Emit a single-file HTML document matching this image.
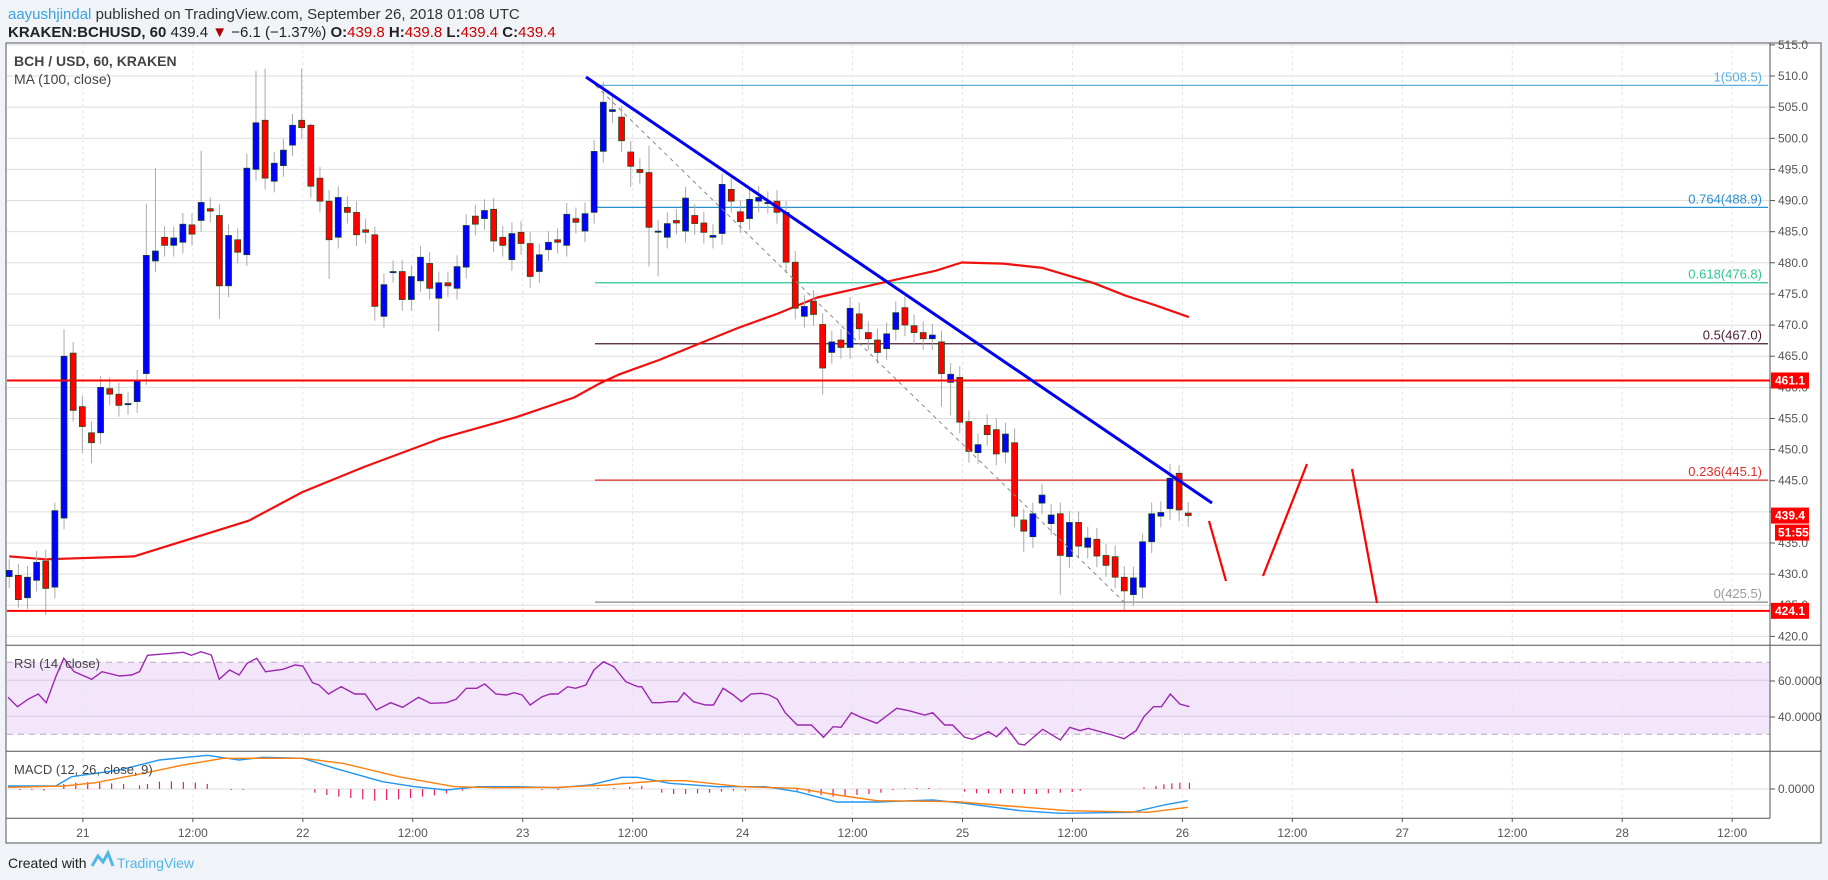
<!DOCTYPE html>
<html><head><meta charset="utf-8">
<style>
html,body{margin:0;padding:0;background:#f0f3f7;}
body{width:1828px;height:880px;overflow:hidden;font-family:"Liberation Sans",sans-serif;}
svg{position:absolute;left:0;top:0;}
</style></head>
<body>
<svg id="s" width="1828" height="880" xmlns="http://www.w3.org/2000/svg" font-family="Liberation Sans, sans-serif">
<rect x="0" y="0" width="1828" height="880" fill="#f0f3f7"/>
<rect x="6" y="43" width="1815" height="800" fill="#fff" stroke="#555" stroke-width="1"/>
<text x="8" y="19" font-size="15"><tspan fill="#3aa3e0">aayushjindal</tspan><tspan fill="#333"> published on TradingView.com, September 26, 2018 01:08 UTC</tspan></text>
<text x="8" y="37" font-size="15" fill="#222"><tspan font-weight="bold">KRAKEN:BCHUSD, 60</tspan><tspan> 439.4 </tspan><tspan fill="#a00">▼</tspan><tspan> −6.1 (−1.37%) </tspan><tspan font-weight="bold">O:</tspan><tspan fill="#c00">439.8</tspan><tspan font-weight="bold"> H:</tspan><tspan fill="#c00">439.8</tspan><tspan font-weight="bold"> L:</tspan><tspan fill="#c00">439.4</tspan><tspan font-weight="bold"> C:</tspan><tspan fill="#c00">439.4</tspan></text>
<g id="g"></g>
<text x="8" y="868" font-size="14" fill="#222">Created with</text>
<path d="M92 866 L98 856 L103 862 L108 853 L113 866" fill="none" stroke="#4fb7e6" stroke-width="3"/>
<text x="117" y="868" font-size="14" fill="#4fb7e6">TradingView</text>
</svg>
<script>
(function(){
var NS="http://www.w3.org/2000/svg",G=document.getElementById("g");
function el(t,a,txt){var e=document.createElementNS(NS,t);for(var k in a)e.setAttribute(k,a[k]);if(txt!==undefined)e.textContent=txt;G.appendChild(e);return e;}
function Y(p){return 44.9+(515-p)*6.226;}
var X0=9.2,DX=9.14,i,p,x;
el("rect",{x:7,y:662.3,width:1763,height:72,fill:"#f3e6fb"});
for(p=420;p<=515;p+=5){el("line",{x1:7,x2:1770,y1:Y(p),y2:Y(p),stroke:"#dedede","stroke-width":1});}
el("line",{x1:7,x2:1770,y1:680.3,y2:680.3,stroke:"#d8c8e2"});
el("line",{x1:7,x2:1770,y1:716.3,y2:716.3,stroke:"#d8c8e2"});
el("line",{x1:7,x2:1770,y1:662.3,y2:662.3,stroke:"#b9a6c6","stroke-dasharray":"6,5"});
el("line",{x1:7,x2:1770,y1:734.3,y2:734.3,stroke:"#b9a6c6","stroke-dasharray":"6,5"});
el("line",{x1:7,x2:1770,y1:789,y2:789,stroke:"#dedede"});
var labs=["21","12:00","22","12:00","23","12:00","24","12:00","25","12:00","26","12:00","27","12:00","28","12:00"];
for(i=0;i<16;i++){x=82.9+i*109.95;
 el("line",{x1:x,x2:x,y1:44,y2:818,stroke:"#e4e4e4","stroke-dasharray":"3,3"});
 el("line",{x1:x,x2:x,y1:818,y2:822,stroke:"#555"});
 el("text",{x:x,y:837,"font-size":12,fill:"#555","text-anchor":"middle"},labs[i]);}
el("line",{x1:6,x2:1821,y1:645.3,y2:645.3,stroke:"#555"});
el("line",{x1:6,x2:1821,y1:751.3,y2:751.3,stroke:"#555"});
el("line",{x1:6,x2:1770,y1:818.3,y2:818.3,stroke:"#555"});
el("line",{x1:1770,x2:1770,y1:43,y2:818.3,stroke:"#555"});
for(p=420;p<=515;p+=5){el("line",{x1:1770,x2:1775,y1:Y(p),y2:Y(p),stroke:"#555"});
 el("text",{x:1778,y:Y(p)+4,"font-size":12,fill:"#555"},p.toFixed(1));}
el("line",{x1:1770,x2:1775,y1:681,y2:681,stroke:"#555"});el("text",{x:1778,y:685,"font-size":12,fill:"#555"},"60.0000");
el("line",{x1:1770,x2:1775,y1:717,y2:717,stroke:"#555"});el("text",{x:1778,y:721,"font-size":12,fill:"#555"},"40.0000");
el("line",{x1:1770,x2:1775,y1:789,y2:789,stroke:"#555"});el("text",{x:1778,y:793,"font-size":12,fill:"#555"},"0.0000");
var fib=[[508.5,"#5aaee0","1(508.5)"],[488.9,"#2a8fd0","0.764(488.9)"],[476.8,"#2ec493","0.618(476.8)"],[467.0,"#4a1a35","0.5(467.0)"],[445.1,"#e02a2a","0.236(445.1)"],[425.5,"#999","0(425.5)"]];
fib.forEach(function(f){el("line",{x1:595,x2:1768,y1:Y(f[0]),y2:Y(f[0]),stroke:f[2]=="0(425.5)"?"#888":f[1],"stroke-width":1.2});
 el("text",{x:1762,y:Y(f[0])-4,"font-size":13,fill:f[1],"text-anchor":"end"},f[2]);});
var ma3=[[24,1390],[118,1398],[350,1390],[500,1340],[650,1290],[790,1210],[950,1140],[1150,1060],[1350,1000],[1500,945],[1568,905]];
var ma4=[[100,880],[200,840],[300,795],[400,750],[500,710],[600,665],[700,640],[800,615],[900,590],[965,567],[1070,570],[1170,582],[1300,625],[1380,660],[1450,685],[1540,720]];
var pts=ma3.map(function(a){return (a[0]/2.613).toFixed(1)+","+(60+a[1]/2.8).toFixed(1)}).concat(ma4.map(function(a){return (580+a[0]/2.529).toFixed(1)+","+(60+a[1]/2.8).toFixed(1)}));
el("polyline",{points:pts.join(" "),fill:"none",stroke:"#f01010","stroke-width":2.2,"stroke-linejoin":"round"});
var C=[[429.6,430.6],[429.8,425.9],[426.2,429.5],[429,431.9],[432.1,427.7],[427.9,440.2],[439,465],[465.5,456.3],[456.9,453.7],[452.7,451.1],[452.7,460],[459.8,458.9],[458.9,457.1],[457.4,457.4],[457.7,461],[462.2,481.2],[480.3,481.9],[484.1,482.8],[482.8,484],[483.3,486.2],[486.1,484.6],[486.8,489.7],[488.7,488.3],[487.6,476.3],[476.3,484.4],[483.7,481.7],[481.3,495.2],[495,502.5],[502.9,493.6],[493.1,496],[495.6,498.1],[498.9,502.1],[502.9,501.7],[502.1,492.3],[493.6,489.9],[489.9,483.7],[484.1,490.5],[488.9,488.1],[488.1,484.5],[485.3,484.9],[484.5,473],[471.4,476.5],[478.6,478.6],[478.6,474.1],[474.1,477.8],[477.1,480.9],[479.9,475.9],[474.3,476.8],[476.8,476.3],[475.9,479.4],[479.3,486],[487.5,486.2],[487.1,488.4],[488.6,483.5],[484.1,482.8],[480.5,484.7],[484.9,483.1],[483.1,477.8],[478.6,481.3],[482.1,483.3],[483.7,483.3],[482.8,487.8],[487.1,486.5],[485.1,487.9],[488.1,497.9],[497.9,505.8],[504.3,504.6],[503.4,499.6],[497.8,495.5],[495,494.5],[494.5,485.7],[485.1,485.1],[484.1,486.3],[486.8,486.4],[485.1,490.4],[487.6,486.3],[486.4,484.9],[484.1,484.4],[484.7,492.6],[491.8,489.9],[488.2,486.6],[487.1,490.2],[489.9,490.5],[489.7,489.7],[489.9,488.1],[488.1,480.1],[480.1,472.7],[471.4,473],[473.8,471.7],[470.1,463.1],[465.6,467.3],[467.6,466.4],[466.4,472.7],[471.8,469.4],[468.8,467.8],[467.6,465.6],[466.2,468.6],[469.3,472],[472.8,470],[469.9,468.8],[468.8,467.8],[467.8,468.4],[467.3,462.2],[460.8,462.1],[461.6,454.4],[454.5,449.7],[449.5,450.8],[453.9,452.4],[453.2,449.3],[449.6,452.5],[451.1,439.3],[438.7,436.9],[436,439.7],[441.4,442.7],[438.1,439.5],[439.7,433],[432.8,438.3],[438.3,434.5],[434.3,435.8],[435.6,432.9],[433,431.4],[432.8,429.5],[429.5,427.3],[426.7,429.4],[427.9,435.2],[435.2,439.7],[439.3,439.9],[440.5,445.4],[446.2,440.3],[439.8,439.4]];
var WH={6:4,15:8,16:13,21:8,26:2,27:8,28:8,32:8,33:0,5:1,40:1,65:3,66:2,70:4,110:2,124:1,127:2,128:1};
var WL={1:1,4:4,8:4,9:3,23:5,35:6,40:2,47:5,68:3,70:6,71:7,89:4,102:5,103:5,111:3,115:6,122:3};
for(i=0;i<C.length;i++){var o=C[i][0],c=C[i][1];x=X0+i*DX;
 var hh=Math.max(o,c)+(WH[i]!==undefined?WH[i]:1.5)+0.3,ll=Math.min(o,c)-(WL[i]!==undefined?WL[i]:1.5)-0.3;
 el("line",{x1:x,x2:x,y1:Y(hh),y2:Y(ll),stroke:"#aaa","stroke-width":1});
 var bt=Y(Math.max(o,c)),bh=Math.max(1.2,Y(Math.min(o,c))-bt);
 el("rect",{x:x-3,y:bt,width:6,height:bh,fill:c>=o?"#0000ff":"#ff0000",stroke:"#1a4a1a","stroke-width":0.7});}
el("line",{x1:7,x2:1770,y1:Y(461.1),y2:Y(461.1),stroke:"#ff0000","stroke-width":2});
el("line",{x1:7,x2:1770,y1:Y(424.1),y2:Y(424.1),stroke:"#ff0000","stroke-width":2});
el("line",{x1:590,x2:1126,y1:80,y2:604,stroke:"#888","stroke-width":1,"stroke-dasharray":"4,4"});
el("line",{x1:586,x2:1212,y1:77,y2:503,stroke:"#0000ee","stroke-width":3});
[[1209,521,1226,581],[1263,576,1307,464],[1352,469,1377,603]].forEach(function(a){el("line",{x1:a[0],y1:a[1],x2:a[2],y2:a[3],stroke:"#ff0000","stroke-width":2.2});});
function tag(y,t){el("rect",{x:1771,y:y-8,width:38,height:16,fill:"#ff0000"});el("text",{x:1775,y:y+4,"font-size":12,fill:"#fff","font-weight":"bold"},t);}
tag(Y(461.1),"461.1");tag(Y(439.4),"439.4");tag(Y(424.1),"424.1");
el("rect",{x:1775,y:Y(439.4)+9,width:34,height:16,fill:"#ff0000"});el("text",{x:1778,y:Y(439.4)+21,"font-size":12,fill:"#fff","font-weight":"bold"},"51:55");
var r=[[10,172],[22,200],[35,178],[48,162],[58,188],[70,110],[80,55],[93,95],[115,118],[128,95],[150,108],[165,105],[175,95],[185,46],[230,37],[240,46],[252,35],[265,45],[275,118],[288,90],[300,105],[310,70],[322,55],[333,95],[355,88],[370,75],[380,78],[392,128],[400,135],[412,162],[428,140],[445,162],[458,162],[472,210],[490,188],[505,202],[525,172],[540,190],[560,188],[572,178],[585,145],[598,145],[608,132],[622,162],[635,165],[645,158],[655,165],[665,195],[680,170],[690,162],[700,162],[712,140],[722,145],[735,135],[745,90],[757,65],[770,80],[785,125],[800,140],[805,140],[818,188],[830,188],[838,185],[850,185],[858,158],[870,185],[885,195],[895,195],[907,145],[920,165],[930,185],[942,162],[955,160],[965,165],[975,178],[985,218],[1000,255],[1018,255],[1033,292],[1045,260],[1055,262],[1068,218],[1080,232],[1100,250],[1125,205],[1140,212],[1160,225],[1170,218],[1185,255],[1195,255],[1210,292],[1220,298],[1240,275],[1250,290],[1262,262],[1278,312],[1285,315],[1308,268],[1330,300],[1342,262],[1355,272],[1365,265],[1395,285],[1410,296],[1425,272],[1435,230],[1447,200],[1457,200],[1468,162],[1480,192],[1492,200]];
function cv(a){return a.map(function(q){return (q[0]/1.2544).toFixed(1)+","+(640+q[1]/3).toFixed(1)}).join(" ");}
el("polyline",{points:cv(r),fill:"none",stroke:"#9c27b0","stroke-width":1.4});
var hist=[[25,450],[40,450],[55,452],[80,432],[95,428],[110,426],[125,428],[140,430],[155,432],[175,436],[185,432],[200,425],[215,424],[230,426],[245,428],[260,432],[290,450],[305,450],[395,458],[410,465],[425,470],[440,474],[455,478],[470,482],[485,480],[500,478],[515,474],[530,470],[545,466],[560,460],[580,452],[680,450],[700,450],[750,444],[770,444],[790,440],[805,438],[830,458],[845,462],[860,462],[875,460],[890,458],[905,455],[920,452],[935,452],[1000,452],[1015,458],[1030,465],[1045,470],[1060,470],[1075,465],[1090,462],[1105,458],[1120,450],[1135,445],[1150,444],[1165,444],[1180,446],[1210,455],[1225,460],[1240,460],[1255,460],[1270,460],[1285,462],[1300,462],[1315,460],[1330,458],[1345,456],[1355,452],[1435,442],[1450,438],[1460,433],[1470,430],[1480,428],[1492,428]];
hist.forEach(function(q){var hx=q[0]/1.2544,hy=640+q[1]/3;el("line",{x1:hx,x2:hx,y1:789,y2:hy,stroke:"#e91e63","stroke-width":1.2});});
var mb=[[10,438],[70,438],[90,410],[150,390],[200,360],[260,346],[300,360],[330,352],[380,355],[420,385],[480,425],[520,440],[560,450],[600,440],[650,440],[700,443],[740,435],[780,412],[800,412],[840,430],[900,440],[960,440],[1000,455],[1050,486],[1100,486],[1170,480],[1210,490],[1280,512],[1330,520],[1420,517],[1460,495],[1490,482]];
var mo=[[10,442],[80,438],[120,428],[180,400],[230,375],[280,355],[380,355],[430,370],[500,410],[570,440],[620,443],[700,442],[760,435],[830,422],[860,422],[930,440],[1000,445],[1050,465],[1100,482],[1200,485],[1250,495],[1340,512],[1440,517],[1490,502]];
el("polyline",{points:cv(mb),fill:"none",stroke:"#2196f3","stroke-width":1.4});
el("polyline",{points:cv(mo),fill:"none",stroke:"#ff7f0e","stroke-width":1.4});
el("text",{x:14,y:66,"font-size":14,fill:"#444","font-weight":"bold"},"BCH / USD, 60, KRAKEN");
el("text",{x:14,y:84,"font-size":14,fill:"#444"},"MA (100, close)");
el("text",{x:14,y:668,"font-size":13,fill:"#444"},"RSI (14, close)");
el("text",{x:14,y:774,"font-size":13,fill:"#444"},"MACD (12, 26, close, 9)");
})();
</script>
</body></html>
